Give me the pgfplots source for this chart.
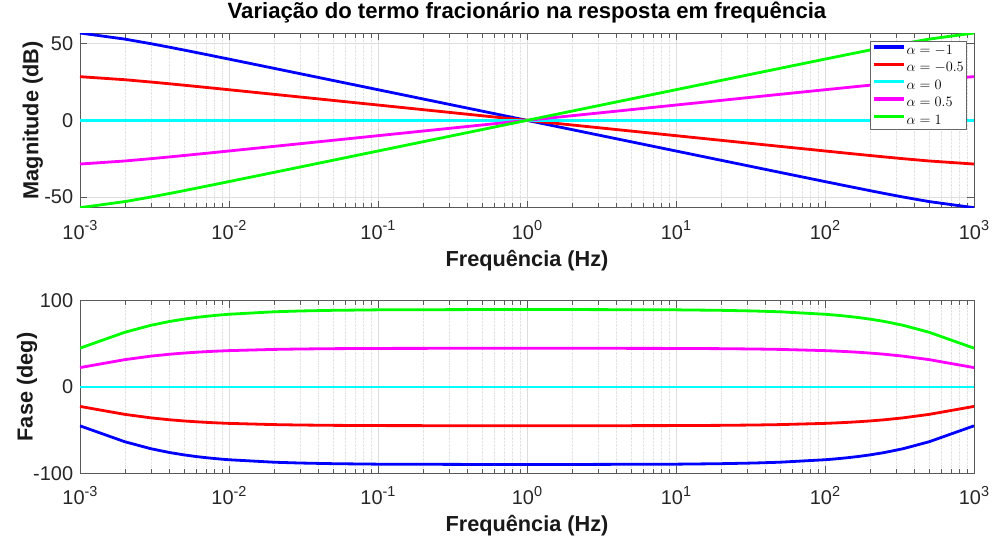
\documentclass[border=0pt]{standalone}
\usepackage[no-math]{fontspec}
\setmainfont{Liberation Sans}
\usepackage{pgfplots}
\usepackage{pgfplotstable}
\pgfplotsset{compat=1.18}

\definecolor{mblue}{rgb}{0,0,1}
\definecolor{mred}{rgb}{1,0,0}
\definecolor{mcyan}{rgb}{0,1,1}
\definecolor{mmag}{rgb}{1,0,1}
\definecolor{mgreen}{rgb}{0,1,0}

\pgfplotstableread{
f        mN1     mN05    m0   mP05    mP1     pN1     pN05    p0  pP05   pP1
0.001    56.99   28.50   0   -28.50  -56.99  -45.00  -22.50   0  22.50  45.00
0.002    53.01   26.51   0   -26.51  -53.01  -63.43  -31.72   0  31.72  63.43
0.003    50.00   25.00   0   -25.00  -50.00  -71.57  -35.78   0  35.78  71.57
0.004    47.70   23.85   0   -23.85  -47.70  -75.96  -37.98   0  37.98  75.96
0.005    45.85   22.93   0   -22.93  -45.85  -78.69  -39.35   0  39.35  78.69
0.006    44.32   22.16   0   -22.16  -44.32  -80.54  -40.27   0  40.27  80.54
0.007    43.01   21.51   0   -21.51  -43.01  -81.87  -40.94   0  40.94  81.87
0.008    41.87   20.94   0   -20.94  -41.87  -82.87  -41.44   0  41.44  82.87
0.009    40.86   20.43   0   -20.43  -40.86  -83.66  -41.83   0  41.83  83.66
0.01     39.96   19.98   0   -19.98  -39.96  -84.29  -42.15   0  42.15  84.29
0.02     33.97   16.99   0   -16.99  -33.97  -87.14  -43.57   0  43.57  87.14
0.03     30.45   15.23   0   -15.23  -30.45  -88.09  -44.05   0  44.05  88.09
0.05     26.02   13.01   0   -13.01  -26.02  -88.85  -44.43   0  44.43  88.85
0.1      20.00   10.00   0   -10.00  -20.00  -89.42  -44.71   0  44.71  89.42
1         0.00    0.00   0     0.00    0.00  -89.89  -44.95   0  44.95  89.89
10      -20.00  -10.00   0    10.00   20.00  -89.42  -44.71   0  44.71  89.42
20      -26.02  -13.01   0    13.01   26.02  -88.85  -44.43   0  44.43  88.85
33.333  -30.45  -15.23   0    15.23   30.45  -88.09  -44.05   0  44.05  88.09
50      -33.97  -16.99   0    16.99   33.97  -87.14  -43.57   0  43.57  87.14
100     -39.96  -19.98   0    19.98   39.96  -84.29  -42.15   0  42.15  84.29
111.11  -40.86  -20.43   0    20.43   40.86  -83.66  -41.83   0  41.83  83.66
125     -41.87  -20.94   0    20.94   41.87  -82.87  -41.44   0  41.44  82.87
142.86  -43.01  -21.51   0    21.51   43.01  -81.87  -40.94   0  40.94  81.87
166.67  -44.32  -22.16   0    22.16   44.32  -80.54  -40.27   0  40.27  80.54
200     -45.85  -22.93   0    22.93   45.85  -78.69  -39.35   0  39.35  78.69
250     -47.70  -23.85   0    23.85   47.70  -75.96  -37.98   0  37.98  75.96
333.33  -50.00  -25.00   0    25.00   50.00  -71.57  -35.78   0  35.78  71.57
500     -53.01  -26.51   0    26.51   53.01  -63.43  -31.72   0  31.72  63.43
1000    -56.99  -28.50   0    28.50   56.99  -45.00  -22.50   0  22.50  45.00
}\datatable

\newcommand{\tl}[1]{10\raisebox{0.42em}{\fontsize{14.5}{14.5}\selectfont #1}}

\pgfplotsset{
  bodestyle/.style={
    scale only axis,
    width=894bp,
    xmin=1e-3, xmax=1e3,
    xtick={1e-3,1e-2,1e-1,1,1e1,1e2,1e3},
    xticklabels={\tl{-3},\tl{-2},\tl{-1},\tl{0},\tl{1},\tl{2},\tl{3}},
    xmajorgrids=true, ymajorgrids=true, xminorgrids=true,
    major grid style={black!13, line width=0.5bp},
    minor grid style={black!11, densely dotted, line width=0.5bp},
    axis line style={black!65, line width=0.7bp},
    tick style={black!65, line width=0.6bp},
    major tick length=7bp, minor tick length=4.5bp,
    tick align=inside,
    xtick pos=both, ytick pos=both,
    ticklabel style={font=\fontsize{20}{23}\selectfont, text=black!85},
    xticklabel style={anchor=base, yshift=-31.6bp},
    yticklabel style={anchor=east, inner sep=0pt, xshift=-6.7bp},
    xlabel={Frequência (Hz)},
    label style={font=\bfseries\fontsize{21.8}{25}\selectfont, text=black!90},
    every axis plot/.append style={line width=2.8bp},
  },
}

\begin{document}
\begin{tikzpicture}
\useasboundingbox (0bp,0bp) rectangle (993bp,-545bp);

\begin{axis}[xmode=log, bodestyle,
  at={(80bp,-33bp)}, anchor=north west,
  height=174.7bp,
  ymin=-57, ymax=57,
  ytick={-50,0,50}, yticklabels={-50,0,50},
  xlabel style={at={(axis description cs:0.5,0)}, anchor=base, yshift=-59bp},
  ylabel={Magnitude (dB)},
  ylabel style={at={(axis description cs:-0.0465,0.5)}, anchor=base},
  title={Variação do termo fracionário na resposta em frequência},
  title style={at={(axis description cs:0.5,1)}, anchor=base, yshift=9bp, font=\bfseries\fontsize{22.2}{25}\selectfont},
  legend style={at={(axis description cs:0.99183,0.9542)}, anchor=north east,
    draw=black!60, line width=0.6bp, fill=white,
    font=\fontsize{13.8}{16}\selectfont,
    inner xsep=1.5bp, inner ysep=0.5bp, row sep=0bp, column sep=0bp,
    nodes={inner xsep=1.2bp, inner ysep=1.5bp, text height=11.2bp, text depth=3.2bp},
    cells={anchor=west}},
  legend cell align=left,
  legend image code/.code={\draw[#1, line width=3.4bp] (0bp,3.6bp) -- (30bp,3.6bp);},
]
\addplot[mblue, no marks] table[x=f, y=mN1] {\datatable};
\addlegendentry{$\alpha=-1$}
\addplot[mred, no marks] table[x=f, y=mN05] {\datatable};
\addlegendentry{$\alpha=-0.5$}
\addplot[mcyan, no marks] table[x=f, y=m0] {\datatable};
\addlegendentry{$\alpha=0$}
\addplot[mmag, no marks] table[x=f, y=mP05] {\datatable};
\addlegendentry{$\alpha=0.5$}
\addplot[mgreen, no marks] table[x=f, y=mP1] {\datatable};
\addlegendentry{$\alpha=1$}
\end{axis}

\begin{axis}[xmode=log, bodestyle,
  at={(80bp,-300.7bp)}, anchor=north west,
  height=172.6bp,
  ymin=-100, ymax=100,
  ytick={-100,0,100}, yticklabels={-100,0,100},
  xlabel style={at={(axis description cs:0.5,0)}, anchor=base, yshift=-58.5bp},
  ylabel={Fase (deg)},
  ylabel style={at={(axis description cs:-0.053,0.5)}, anchor=base},
]
\addplot[mblue, no marks] table[x=f, y=pN1] {\datatable};
\addplot[mred, no marks] table[x=f, y=pN05] {\datatable};
\addplot[mcyan, no marks] table[x=f, y=p0] {\datatable};
\addplot[mmag, no marks] table[x=f, y=pP05] {\datatable};
\addplot[mgreen, no marks] table[x=f, y=pP1] {\datatable};
\end{axis}
\end{tikzpicture}
\end{document}
